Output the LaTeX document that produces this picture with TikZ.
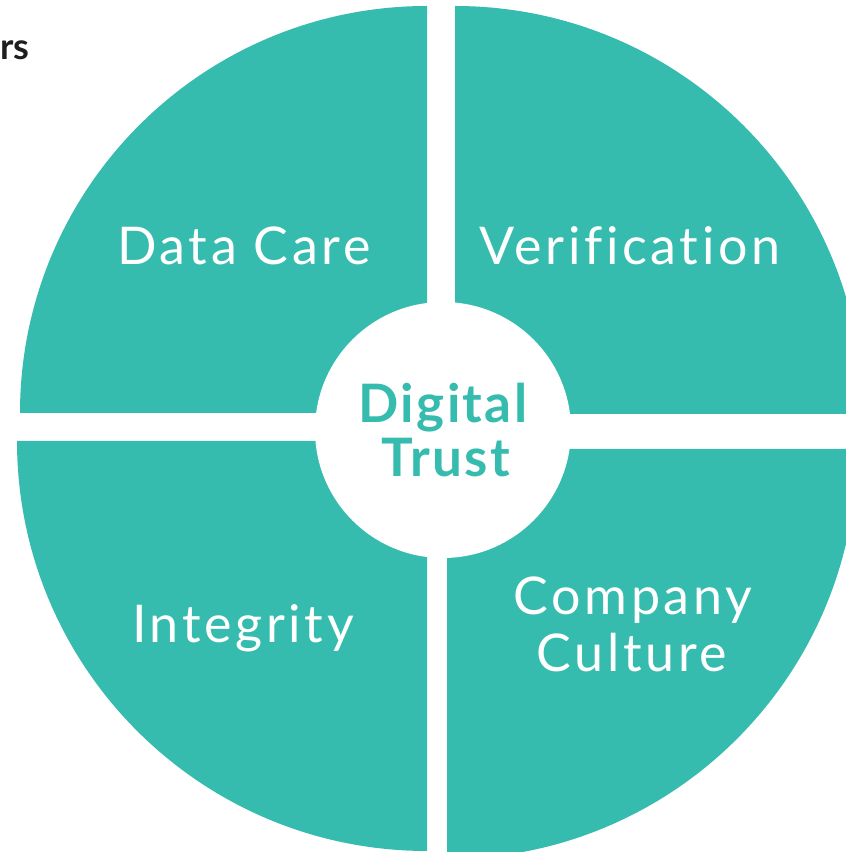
\documentclass[tikz,border=0pt]{standalone}
\usepackage{fontspec}
\setmainfont{Lato}
\newfontfamily\lblfont{Lato}[LetterSpace=7, Ligatures=NoCommon]
\newfontfamily\corefont{Lato}[LetterSpace=4.5, Ligatures=NoCommon]
\definecolor{teal1}{RGB}{54,188,174}
\definecolor{ink}{RGB}{30,30,30}
\tikzset{
  quad/.style={fill=teal1, draw=none},
  lbl/.style={text=white, font=\lblfont\fontsize{52}{57}\selectfont, anchor=base, inner sep=0pt},
  core/.style={text=teal1, font=\corefont\bfseries\fontsize{53}{54}\selectfont, anchor=base, inner sep=0pt}
}
\begin{document}
\begin{tikzpicture}[x=1pt,y=1pt]
\useasboundingbox (0,0) rectangle (846,852);
% quadrants
\fill[quad] (427,439) -- ++(-407,0) arc[start angle=180, end angle=90, radius=407] -- cycle;
\fill[quad] (455,438) -- ++(408,0) arc[start angle=0, end angle=90, radius=408] -- cycle;
\fill[quad] (427,411) -- ++(-410,0) arc[start angle=180, end angle=270, radius=410] -- cycle;
\fill[quad] (447,403) -- ++(410,0) arc[start angle=0, end angle=-90, radius=410] -- cycle;
% centre
\fill[white] (443,422) circle[radius=128];
% labels
\node[lbl] (dc) at (244,587) {Data Care};
\node[lbl] (ve) at (630,587) {Verification};
\node[lbl] (in) at (243,209) {Integrity};
\node[lbl] (co) at (633,237) {Company};
\node[lbl] (cu) at (632,180) {Culture};
\node[core] (dg) at (443,429) {Digital};
\node[core] (tr) at (446,375) {Trust};
\node[text=ink, font=\bfseries\fontsize{36}{40}\selectfont, anchor=base west, inner sep=0pt] (rs) at (0,792) {rs};
\end{tikzpicture}
\end{document}
